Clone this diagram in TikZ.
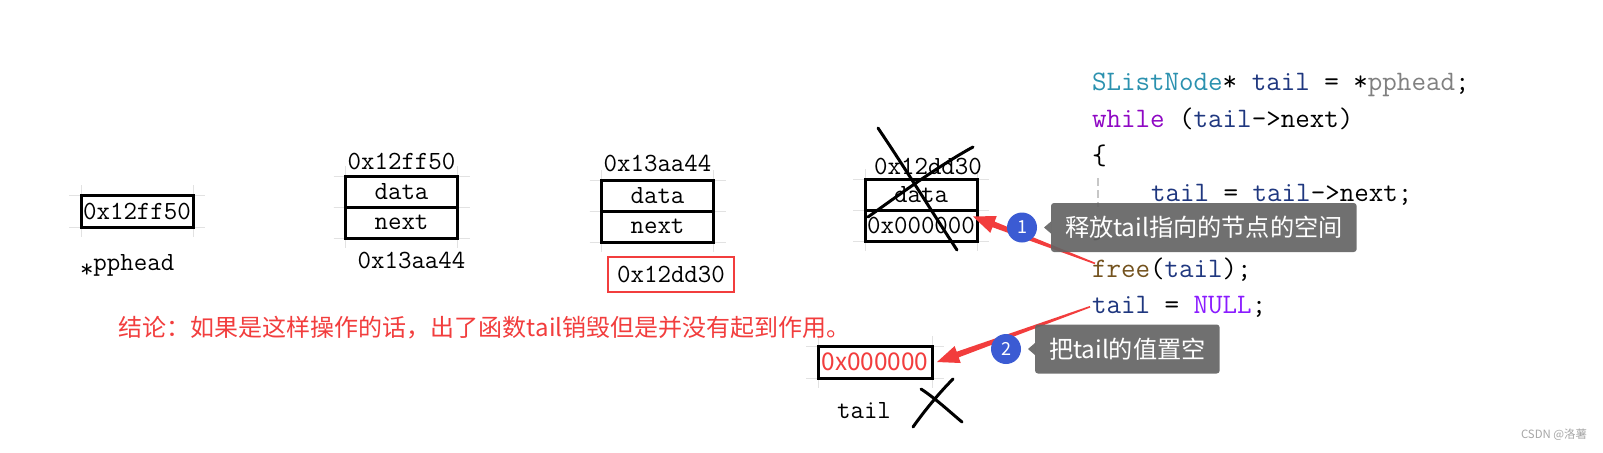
\documentclass[tikz,border=0pt]{standalone}
\usepackage{fontspec}
\usepackage{xcolor}
\usetikzlibrary{shapes,arrows,positioning,calc,backgrounds}

\newfontfamily\cjk{Noto Sans CJK SC}
\newcommand{\memfont}{\ttfamily\fontsize{13.1}{15}\selectfont}
\newcommand{\codefont}{\ttfamily\fontsize{14.1}{16}\selectfont}
\newcommand{\tipfont}{\cjk\fontsize{12.1}{14}\selectfont}

\definecolor{tipgray}{HTML}{646464}
\definecolor{badgeblue}{HTML}{3B5BD3}
\definecolor{markred}{HTML}{F23D3D}
\definecolor{typeteal}{HTML}{2B91AF}
\definecolor{vardark}{HTML}{1F377F}
\definecolor{kwpurple}{HTML}{8F08C4}
\definecolor{fnbrown}{HTML}{74531F}
\definecolor{macropurple}{HTML}{8A1BFF}
\definecolor{gridgray}{HTML}{E2E2E2}

% tapered red arrow: #1 start, #2 tip
\newcommand{\taperarrow}[2]{%
  \fill[markred] ($(#1)!0.4pt!90:(#2)$) -- ($(#2)!11pt!(#1)!1.5pt!90:(#2)$)
    -- ($(#2)!11pt!(#1)!4.5pt!90:(#2)$) -- (#2)
    -- ($(#2)!11pt!(#1)!4.5pt!-90:(#2)$) -- ($(#2)!11pt!(#1)!1.5pt!-90:(#2)$)
    -- ($(#1)!0.4pt!-90:(#2)$) -- cycle;}

\begin{document}
\begin{tikzpicture}[x=0.5pt, y=-0.5pt, node distance=0pt, outer sep=0pt,
    cell/.style={rectangle, draw, line width=1.5pt, minimum width=56pt, minimum height=15.5pt, inner sep=0pt, font=\memfont},
    memlabel/.style={font=\memfont, inner sep=0pt},
    codeline/.style={font=\codefont, anchor=base west, inner sep=0pt},
    tip/.style={rectangle, fill=tipgray, fill opacity=0.92, text opacity=1, rounded corners=1.5pt, text=white, font=\tipfont, minimum height=24.5pt, inner xsep=7pt, inner ysep=0pt},
    badge/.style={circle, fill=badgeblue, text=white, minimum size=15pt, inner sep=0pt, font=\cjk\fontsize{9}{10}\selectfont},
    scrawl/.style={line width=1.5pt, line cap=round, line join=round},
    gridln/.style={gridgray, line width=0.5pt}]
        \path[use as bounding box] (0,0) rectangle (1603,452);

        % head pointer
        \node (hd) [cell, minimum height=16pt] at (137,211) {0x12ff50};
        \node (pp) [memlabel, anchor=west] at (80,266) {\raisebox{-0.25em}{*}pphead};

        % list nodes
        \node (n1data) [cell] at (401.5,191.5) {data};
        \node (n1next) [cell, below=of n1data] {next};
        \node (n1addr) [memlabel, above=3pt of n1data] {0x12ff50};
        \node (n1link) [memlabel, below=7pt of n1next, xshift=5pt] {0x13aa44};

        \node (n2data) [cell] at (657.5,195.5) {data};
        \node (n2next) [cell, below=of n2data] {next};
        \node (n2addr) [memlabel, above=4pt of n2data] {0x13aa44};
        \node (n2link) [cell, draw=markred, line width=1pt, minimum width=63pt, minimum height=17.5pt, below=7.5pt of n2next, xshift=6.75pt] {0x12dd30};

        \node (n3data) [cell] at (921,194.5) {data};
        \node (n3next) [cell, below=of n3data] {0x000000};
        \node (n3addr) [memlabel, above=2pt of n3data, xshift=3.5pt] {0x12dd30};

        % local tail
        \node (bot) [cell, minimum width=57pt, minimum height=16pt, text=markred, font=\cjk\fontsize{12.2}{14}\selectfont] at (875,362) {0x000000};
        \node (tl) [memlabel, below=12pt of bot, xshift=-5.5pt] {tail};

        % code
        \node (c1) [codeline] at (1092,90) {\textcolor{typeteal}{SListNode}* \textcolor{vardark}{tail} = *\textcolor{gray}{pphead};};
        \node (c2) [codeline] at (1092,127) {\textcolor{kwpurple}{while} (\textcolor{vardark}{tail}->next)};
        \node (c3) [codeline] at (1092,164) {\{};
        \node (c4) [codeline] at (1151,201) {\textcolor{vardark}{tail} = \textcolor{vardark}{tail}->next;};
        \node (c5) [codeline] at (1092,238) {\}};
        \node (c6) [codeline] at (1092,277) {\textcolor{fnbrown}{free}(\textcolor{vardark}{tail});};
        \node (c7) [codeline] at (1092,313) {\textcolor{vardark}{tail} = \textcolor{macropurple}{NULL};};
        \draw[black!22, line width=1pt, dash pattern=on 4pt off 2pt] (1098,178) -- (1098,207);

        % crossed out
        \draw[scrawl] (878,128) .. controls (905,168) and (932,212) .. (957,250);
        \draw[scrawl] (868,217) .. controls (900,194) and (940,165) .. (973,147);
        \draw[scrawl] (913,427) .. controls (925,410) and (940,392) .. (953,379);
        \draw[scrawl] (921,389) .. controls (935,398) and (950,412) .. (962,422);

        % arrows
        \coordinate (a1s) at ([xshift=1.5pt,yshift=-3pt]c6.north west);
        \coordinate (a1t) at ([xshift=-2pt,yshift=4.5pt]n3next.east);
        \coordinate (a2s) at ([xshift=-1pt,yshift=-5.5pt]c7.north west);
        \coordinate (a2t) at ([xshift=2.5pt]bot.east);
        \taperarrow{a1s}{a1t}
        \taperarrow{a2s}{a2t}

        % callouts
        \node (tip1) [tip, anchor=west] at (1051,227.5) {释放tail指向的节点的空间};
        \fill[tipgray, fill opacity=0.92] ([yshift=3pt]tip1.west) -- ([xshift=-3.5pt]tip1.west) -- ([yshift=-3pt]tip1.west) -- cycle;
        \node (b1) [badge, left=7pt of tip1] {1};
        \node (tip2) [tip, anchor=west] at (1035,349) {把tail的值置空};
        \fill[tipgray, fill opacity=0.92] ([yshift=3pt]tip2.west) -- ([xshift=-3.5pt]tip2.west) -- ([yshift=-3pt]tip2.west) -- cycle;
        \node (b2) [badge, left=7pt of tip2] {2};

        \node (note) [anchor=west, inner sep=0pt, text=markred, font=\cjk\fontsize{12}{14}\selectfont] at (119,328) {结论：如果是这样操作的话，出了函数tail销毁但是并没有起到作用。};
        \node (wm) [anchor=east, inner sep=0pt, text=gray!70, font=\cjk\fontsize{5.7}{7}\selectfont] at (1587,435) {CSDN @洛薯};

        \begin{scope}[on background layer]
            \fill[white] (0,0) rectangle (1603,452);
            \foreach \c in {hd,n1data,n1next,n2data,n2next,n3data,n3next,bot}{
                \draw[gridln] ([xshift=-6pt]\c.north west) -- ([xshift=6pt]\c.north east);
                \draw[gridln] ([xshift=-6pt]\c.south west) -- ([xshift=6pt]\c.south east);
                \draw[gridln] ([yshift=5pt]\c.north west) -- ([yshift=-5pt]\c.south west);
                \draw[gridln] ([yshift=5pt]\c.north east) -- ([yshift=-5pt]\c.south east);
            }
        \end{scope}
    \end{tikzpicture}
\end{document}
